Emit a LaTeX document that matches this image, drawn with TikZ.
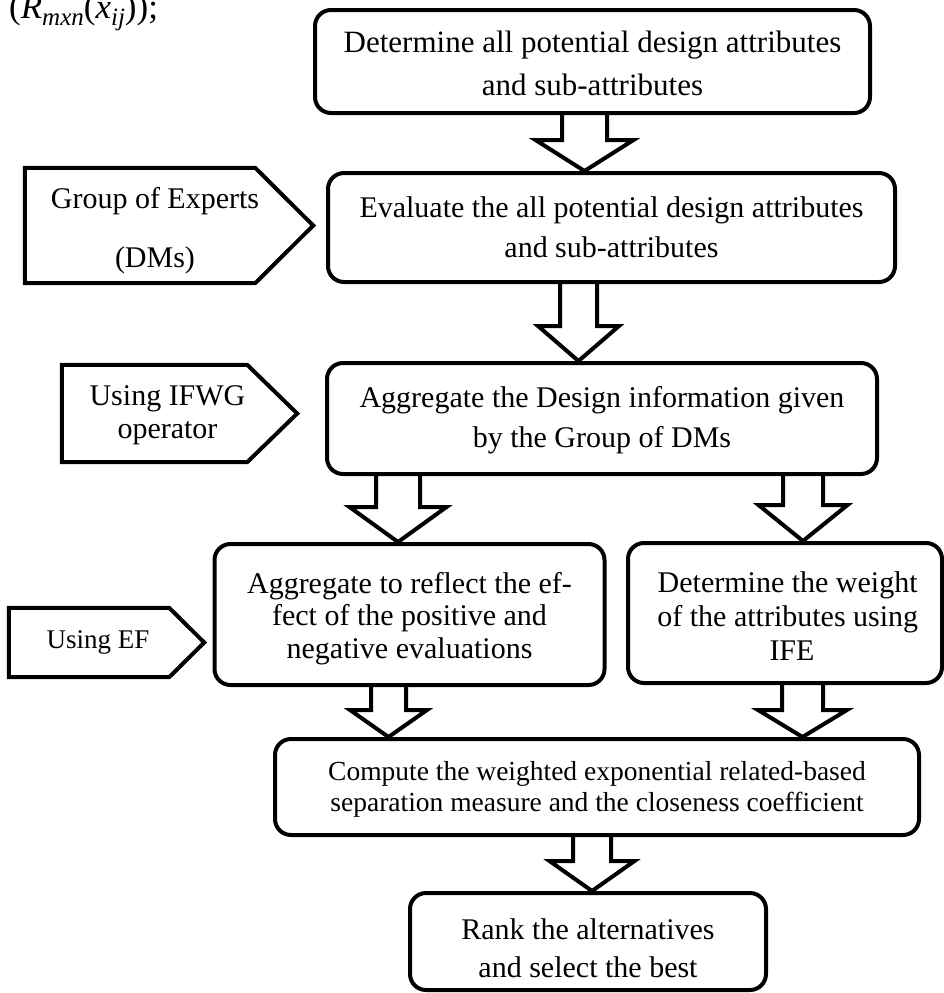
\documentclass[tikz,border=0pt]{standalone}
\usepackage{fontspec}
\setmainfont{Liberation Serif}
\usetikzlibrary{calc}
\tikzset{
  box/.style={draw, line width=4pt, rounded corners=16pt, align=center, inner sep=0pt,
    font=\fontsize{30}{40}\selectfont},
  pnode/.style={inner sep=0pt, align=center, font=\fontsize{30}{33}\selectfont},
  pent/.style={draw, line width=4pt, line join=miter},
  barrow/.style={draw, line width=4pt, line join=miter},
}
% shifted text block: #1 vertical shift, #2 width, #3 text
\newcommand\bt[3]{\raisebox{#1}[\height][\depth]{\parbox{#2}{\centering #3}}}
% block arrow: #1 x, #2 from, #3 to, #4 shaft half width, #5 head half width, #6 head length
\newcommand\blockarrow[6]{%
  \path[barrow] let \p1=(#2), \p2=(#3) in
    (#1pt-#4pt,\y1) -- (#1pt-#4pt,\y2+#6pt) -- (#1pt-#5pt,\y2+#6pt) -- (#1pt,\y2)
    -- (#1pt+#5pt,\y2+#6pt) -- (#1pt+#4pt,\y2+#6pt) -- (#1pt+#4pt,\y1);}
\begin{document}
\begin{tikzpicture}[x=1pt,y=-1pt]
\useasboundingbox (0,0) rectangle (944,993);

% partial formula at the top left
\node[anchor=base west, inner sep=0pt, font=\fontsize{35}{38}\selectfont] (M) at (9,18)
  {(\textit{R}\raisebox{-7pt}{\fontsize{25}{25}\selectfont\textit{mxn}}(\textit{x}\raisebox{-7pt}{\fontsize{25}{25}\selectfont\textit{ij}}));};

% main boxes
\node[box, minimum width=555pt, minimum height=103pt, font=\fontsize{31}{43}\selectfont] (B1) at (592.5,61.5)
  {\bt{-2pt}{540pt}{Determine all potential design attributes\\and sub-attributes}};
\node[box, minimum width=567pt, minimum height=109pt] (B2) at (611.5,227.5)
  {Evaluate the all potential design attributes\\and sub-attributes};
\node[box, minimum width=550pt, minimum height=111pt] (B3) at (602,418.5)
  {\bt{-2pt}{540pt}{Aggregate the Design information given\\by the Group of DMs}};
\node[box, minimum width=390pt, minimum height=141pt, font=\fontsize{30}{32.5}\selectfont] (B4L) at (409.5,614.5)
  {\bt{-4pt}{380pt}{Aggregate to reflect the ef-\\fect of the positive and\\negative evaluations}};
\node[box, minimum width=314pt, minimum height=140pt, font=\fontsize{30}{34}\selectfont] (B4R) at (785,613)
  {\raisebox{-3pt}[\height][\depth]{\parbox{300pt}{\leftskip=14pt plus 1fil\rightskip=0pt plus 1fil\parfillskip=0pt
   Determine the weight\\of the attributes using\\IFE}}};
\node[box, minimum width=644pt, minimum height=96pt, font=\fontsize{27.5}{31}\selectfont] (B5) at (597,787)
  {\bt{-2pt}{630pt}{Compute the weighted exponential related-based\\separation measure and the closeness coefficient}};
\node[box, minimum width=356pt, minimum height=97pt, font=\fontsize{30}{38}\selectfont] (B6) at (588,941.5)
  {\bt{-7pt}{340pt}{Rank the alternatives\\and select the best}};

% side pentagons
\node[pnode, minimum width=260pt, minimum height=115pt, font=\fontsize{30}{59}\selectfont] (P1) at (155,225.5)
  {\bt{-5pt}{250pt}{Group of Experts\\(DMs)}};
\draw[pent] (P1.north west) -- ($(P1.north east)+(-30,0)$) -- ($(P1.east)+(28,0)$)
  -- ($(P1.south east)+(-30,0)$) -- (P1.south west) -- cycle;
\node[pnode, minimum width=211pt, minimum height=97pt] (P2) at (167.5,413.5)
  {\bt{-2pt}{200pt}{Using IFWG\\operator}};
\draw[pent] (P2.north west) -- ($(P2.north east)+(-26,0)$) -- ($(P2.east)+(24,0)$)
  -- ($(P2.south east)+(-26,0)$) -- (P2.south west) -- cycle;
\node[pnode, minimum width=178pt, minimum height=69pt, font=\fontsize{27}{30}\selectfont] (P3) at (98,642.5)
  {Using EF};
\draw[pent] (P3.north west) -- ($(P3.north east)+(-18,0)$) -- ($(P3.east)+(17,0)$)
  -- ($(P3.south east)+(-18,0)$) -- (P3.south west) -- cycle;

% block arrows
\blockarrow{584.5}{B1.south}{B2.north}{22.5}{49}{31}
\blockarrow{578.5}{B2.south}{B3.north}{18.5}{40.5}{35}
\blockarrow{398}{B3.south}{B4L.north}{22}{48.5}{35}
\blockarrow{803}{B3.south}{B4R.north}{20}{44.5}{36}
\blockarrow{388.5}{B4L.south}{B5.north}{17.5}{38.5}{27}
\blockarrow{802.5}{B4R.south}{B5.north}{20.5}{44.5}{27}
\blockarrow{592}{B5.south}{B6.north}{19}{42.5}{30}
\end{tikzpicture}
\end{document}
